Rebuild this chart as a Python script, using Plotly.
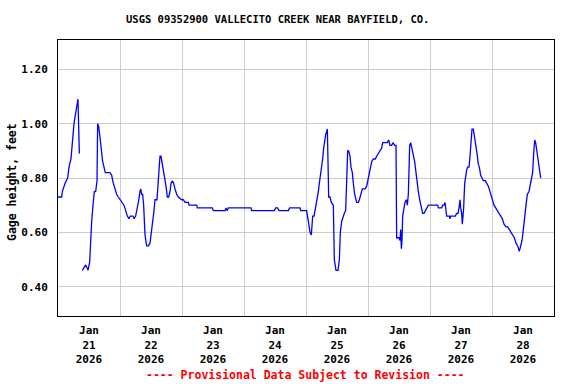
import pandas as pd
import plotly.graph_objects as go

title_text = "USGS 09352900 VALLECITO CREEK NEAR BAYFIELD, CO."
y_title = "Gage height, feet"
footer_text = "---- Provisional Data Subject to Revision ----"
start = pd.Timestamp("2026-01-21 00:00")

# hours since Jan 21 00:00, gage height (ft); None marks the data gap
hours = [
    0.0, 1.42, 1.68, 2.71, 3.74, 4.26, 5.03, 5.55, 6.19, 6.84, 7.35, 7.74, 8.00, 8.26,
    8.8,
    9.42, 9.94, 10.71, 11.23, 11.61, 12.26, 12.65, 13.03, 13.55, 14.06, 14.58, 15.10, 15.35,
    15.74, 16.26, 16.77, 17.29, 17.81, 18.32, 20.13, 20.77, 21.42, 22.06, 22.71, 23.35,
    24.0, 24.65, 25.55, 26.19, 26.84, 27.48, 28.0, 29.03, 29.42, 30.06, 30.58, 31.10,
    31.74, 32.0, 32.39, 32.77, 33.16, 33.68, 34.32, 34.97, 35.61, 36.13, 36.65, 37.16,
    37.55, 38.32, 38.84, 39.48, 39.87, 40.39, 41.03, 41.42, 41.81, 42.32, 42.84, 43.35,
    43.74, 44.26, 44.77, 45.29, 45.94, 46.58, 47.87, 48.52, 49.16, 50.45, 50.71, 53.68,
    53.94, 59.74, 60.13, 64.65, 65.03, 65.42, 65.94, 74.71, 74.97, 83.74, 84.26, 85.03,
    85.55, 86.32, 89.16, 89.68, 93.68, 93.94, 96.26,
    96.91, 97.55, 98.07, 98.33, 98.58, 99.10, 99.74, 100.26, 100.78, 101.16, 101.68,
    102.07, 102.45, 102.84, 103.23, 103.62, 104.0, 104.26, 104.52, 104.78, 105.29, 105.81,
    106.58, 106.97, 107.62, 108.39, 108.91, 109.29, 109.81, 110.32, 110.84, 111.36, 111.74,
    112.13, 112.52, 113.03, 113.42, 113.94, 114.32, 114.84, 115.62, 116.26, 116.65, 117.16,
    117.81, 118.84, 119.49, 120.13, 120.78, 121.42, 122.07, 122.84, 123.36, 124.0, 124.65,
    125.29, 125.68, 127.49, 128.0, 128.52, 129.16, 129.68, 130.33, 130.84, 131.10, 131.49,
    132.0, 132.39, 132.65, 132.91, 133.16, 133.42, 133.81, 134.32, 134.84, 135.23, 135.62,
    135.87, 136.13, 136.52, 137.03, 137.55, 138.07, 138.58, 138.97, 139.49, 140.0, 140.52,
    141.16, 141.68, 142.2, 142.84, 143.36, 144.0, 146.97, 147.23, 148.52, 148.91, 149.42,
    149.81, 150.07, 150.45, 151.49, 151.74, 152.0, 153.81, 154.33, 154.84, 155.23, 155.62,
    155.87, 156.26, 156.52, 156.78, 157.03, 157.42, 157.81, 158.2, 158.58, 159.1, 159.49,
    159.87, 160.26, 160.78, 161.16, 161.68, 162.2, 162.71, 163.1, 163.62, 164.13, 164.65,
    165.42, 165.94, 166.58, 167.23, 167.74, 168.26, 168.78, 169.42, 170.07, 170.71, 171.36,
    172.0, 172.65, 173.42, 174.07, 174.71, 175.36, 176.0, 176.65, 177.29, 177.94, 178.58,
    179.1, 179.62, 180.13, 180.65, 181.16, 181.68, 182.33, 182.71, 183.23, 183.74, 184.13,
    184.52, 184.9, 185.29, 185.68, 186.07, 186.45, 186.84,
]
gage_ft = [
    0.73, 0.73, 0.75, 0.78, 0.80, 0.84, 0.87, 0.94, 1.00, 1.04, 1.08, 1.09, 0.99, 0.89,
    None,
    0.46, 0.47, 0.48, 0.47, 0.46, 0.49, 0.58, 0.64, 0.70, 0.75, 0.75, 0.79, 1.00,
    0.99, 0.95, 0.89, 0.86, 0.84, 0.82, 0.82, 0.81, 0.78, 0.76, 0.74, 0.73,
    0.72, 0.71, 0.70, 0.68, 0.66, 0.65, 0.66, 0.66, 0.65, 0.66, 0.68, 0.71,
    0.75, 0.76, 0.74, 0.74, 0.70, 0.59, 0.55, 0.55, 0.56, 0.61, 0.64, 0.68,
    0.72, 0.72, 0.80, 0.88, 0.88, 0.85, 0.83, 0.80, 0.77, 0.73, 0.73, 0.75,
    0.78, 0.79, 0.78, 0.76, 0.74, 0.73, 0.72, 0.72, 0.71, 0.71, 0.70, 0.70,
    0.69, 0.69, 0.68, 0.68, 0.69, 0.68, 0.69, 0.69, 0.68, 0.68, 0.69, 0.69,
    0.68, 0.68, 0.68, 0.69, 0.69, 0.68, 0.68,
    0.64, 0.60, 0.59, 0.62, 0.66, 0.66, 0.69, 0.72, 0.75, 0.78, 0.81,
    0.84, 0.87, 0.91, 0.94, 0.96, 0.97, 0.98, 0.86, 0.73, 0.73, 0.71,
    0.70, 0.50, 0.46, 0.46, 0.50, 0.60, 0.64, 0.66, 0.67, 0.68, 0.78,
    0.90, 0.90, 0.88, 0.84, 0.82, 0.78, 0.74, 0.71, 0.71, 0.72, 0.74,
    0.76, 0.76, 0.77, 0.80, 0.83, 0.86, 0.87, 0.87, 0.88, 0.89, 0.90,
    0.91, 0.93, 0.93, 0.94, 0.92, 0.92, 0.93, 0.92, 0.92, 0.58, 0.58,
    0.58, 0.57, 0.61, 0.54, 0.57, 0.66, 0.68, 0.71, 0.72, 0.70, 0.74,
    0.81, 0.92, 0.93, 0.91, 0.89, 0.86, 0.82, 0.78, 0.75, 0.72, 0.69,
    0.67, 0.67, 0.68, 0.69, 0.70, 0.70, 0.70, 0.69, 0.69, 0.70, 0.70,
    0.71, 0.68, 0.66, 0.66, 0.65, 0.66, 0.66, 0.67, 0.67, 0.69, 0.72,
    0.69, 0.67, 0.63, 0.66, 0.69, 0.78, 0.81, 0.83, 0.84, 0.84, 0.88,
    0.94, 0.98, 0.98, 0.96, 0.93, 0.89, 0.85, 0.84, 0.81, 0.80, 0.79,
    0.79, 0.78, 0.77, 0.75, 0.73, 0.72, 0.70, 0.69, 0.68, 0.67, 0.66,
    0.65, 0.63, 0.62, 0.62, 0.61, 0.60, 0.59, 0.58, 0.56, 0.55, 0.53,
    0.55, 0.57, 0.61, 0.67, 0.70, 0.74, 0.75, 0.77, 0.79, 0.82, 0.89,
    0.94, 0.93, 0.90, 0.87, 0.85, 0.83, 0.80,
]

tick_days = ["21", "22", "23", "24", "25", "26", "27", "28"]
y_ticks = [0.40, 0.60, 0.80, 1.00, 1.20]

times = [start + pd.Timedelta(hours=h) for h in hours]
tick_vals = [start + pd.Timedelta(days=i, hours=12) for i in range(len(tick_days))]
tick_text = [f"Jan<br>{d}<br>2026" for d in tick_days]

font_family = "DejaVu Sans Mono"
PLOT_L, PLOT_T, PLOT_W, PLOT_H = 58, 40, 496, 276

fig = go.Figure()
fig.add_trace(go.Scatter(
    x=times, y=gage_ft, mode="lines",
    line=dict(color="#0000FF", width=1.3),
    connectgaps=False, showlegend=False, hoverinfo="skip",
))

fig.update_layout(
    width=576, height=384,
    margin=dict(l=PLOT_L, r=576 - PLOT_L - PLOT_W, t=PLOT_T, b=384 - PLOT_T - PLOT_H,
                autoexpand=False),
    paper_bgcolor="white", plot_bgcolor="white",
    font=dict(family=font_family, size=11, color="black", weight="bold"),
)

fig.update_xaxes(
    range=[start, start + pd.Timedelta(days=8)],
    tickmode="array", tickvals=tick_vals, ticktext=tick_text,
    showgrid=False, ticks="", ticklabelstandoff=4, automargin=False,
    showline=True, linecolor="black", linewidth=1, mirror=True,
    tickfont=dict(family=font_family, size=11, weight="bold"),
    minor=dict(tick0=start, dtick=86400000, showgrid=True,
               gridcolor="#CCCCCC", gridwidth=1, ticks=""),
    zeroline=False,
)
fig.update_yaxes(
    range=[0.292, 1.308],
    tickmode="array", tickvals=y_ticks, ticktext=[f"{v:.2f}" for v in y_ticks],
    showgrid=True, gridcolor="#CCCCCC", gridwidth=1,
    ticks="", ticklabelstandoff=7, automargin=False,
    showline=True, linecolor="black", linewidth=1, mirror=True,
    zeroline=False,
    tickfont=dict(family=font_family, size=11, weight="bold"),
)

# title
fig.add_annotation(
    text=title_text, xref="paper", yref="paper",
    x=(277.5 - PLOT_L) / PLOT_W, y=1 + (PLOT_T - 19) / PLOT_H,
    xanchor="center", yanchor="middle", showarrow=False,
    font=dict(family=font_family, size=10.5, color="black", weight="bold"),
)
# y-axis title
fig.add_annotation(
    text=y_title, xref="paper", yref="paper",
    x=-(PLOT_L - 12) / PLOT_W, y=1 - (182 - PLOT_T) / PLOT_H,
    xanchor="center", yanchor="middle", textangle=-90, showarrow=False,
    font=dict(family=font_family, size=11.5, color="black", weight="bold"),
)
# footer
fig.add_annotation(
    text=footer_text, xref="paper", yref="paper",
    x=(305.5 - PLOT_L) / PLOT_W, y=-(375 - PLOT_T - PLOT_H) / PLOT_H,
    xanchor="center", yanchor="middle", showarrow=False,
    font=dict(family=font_family, size=11.5, color="#FF0000", weight="bold"),
)

fig.write_html(
    "out.html",
    config={"displayModeBar": False},
    post_script="document.body.style.margin='0';document.body.style.overflow='hidden';",
)
